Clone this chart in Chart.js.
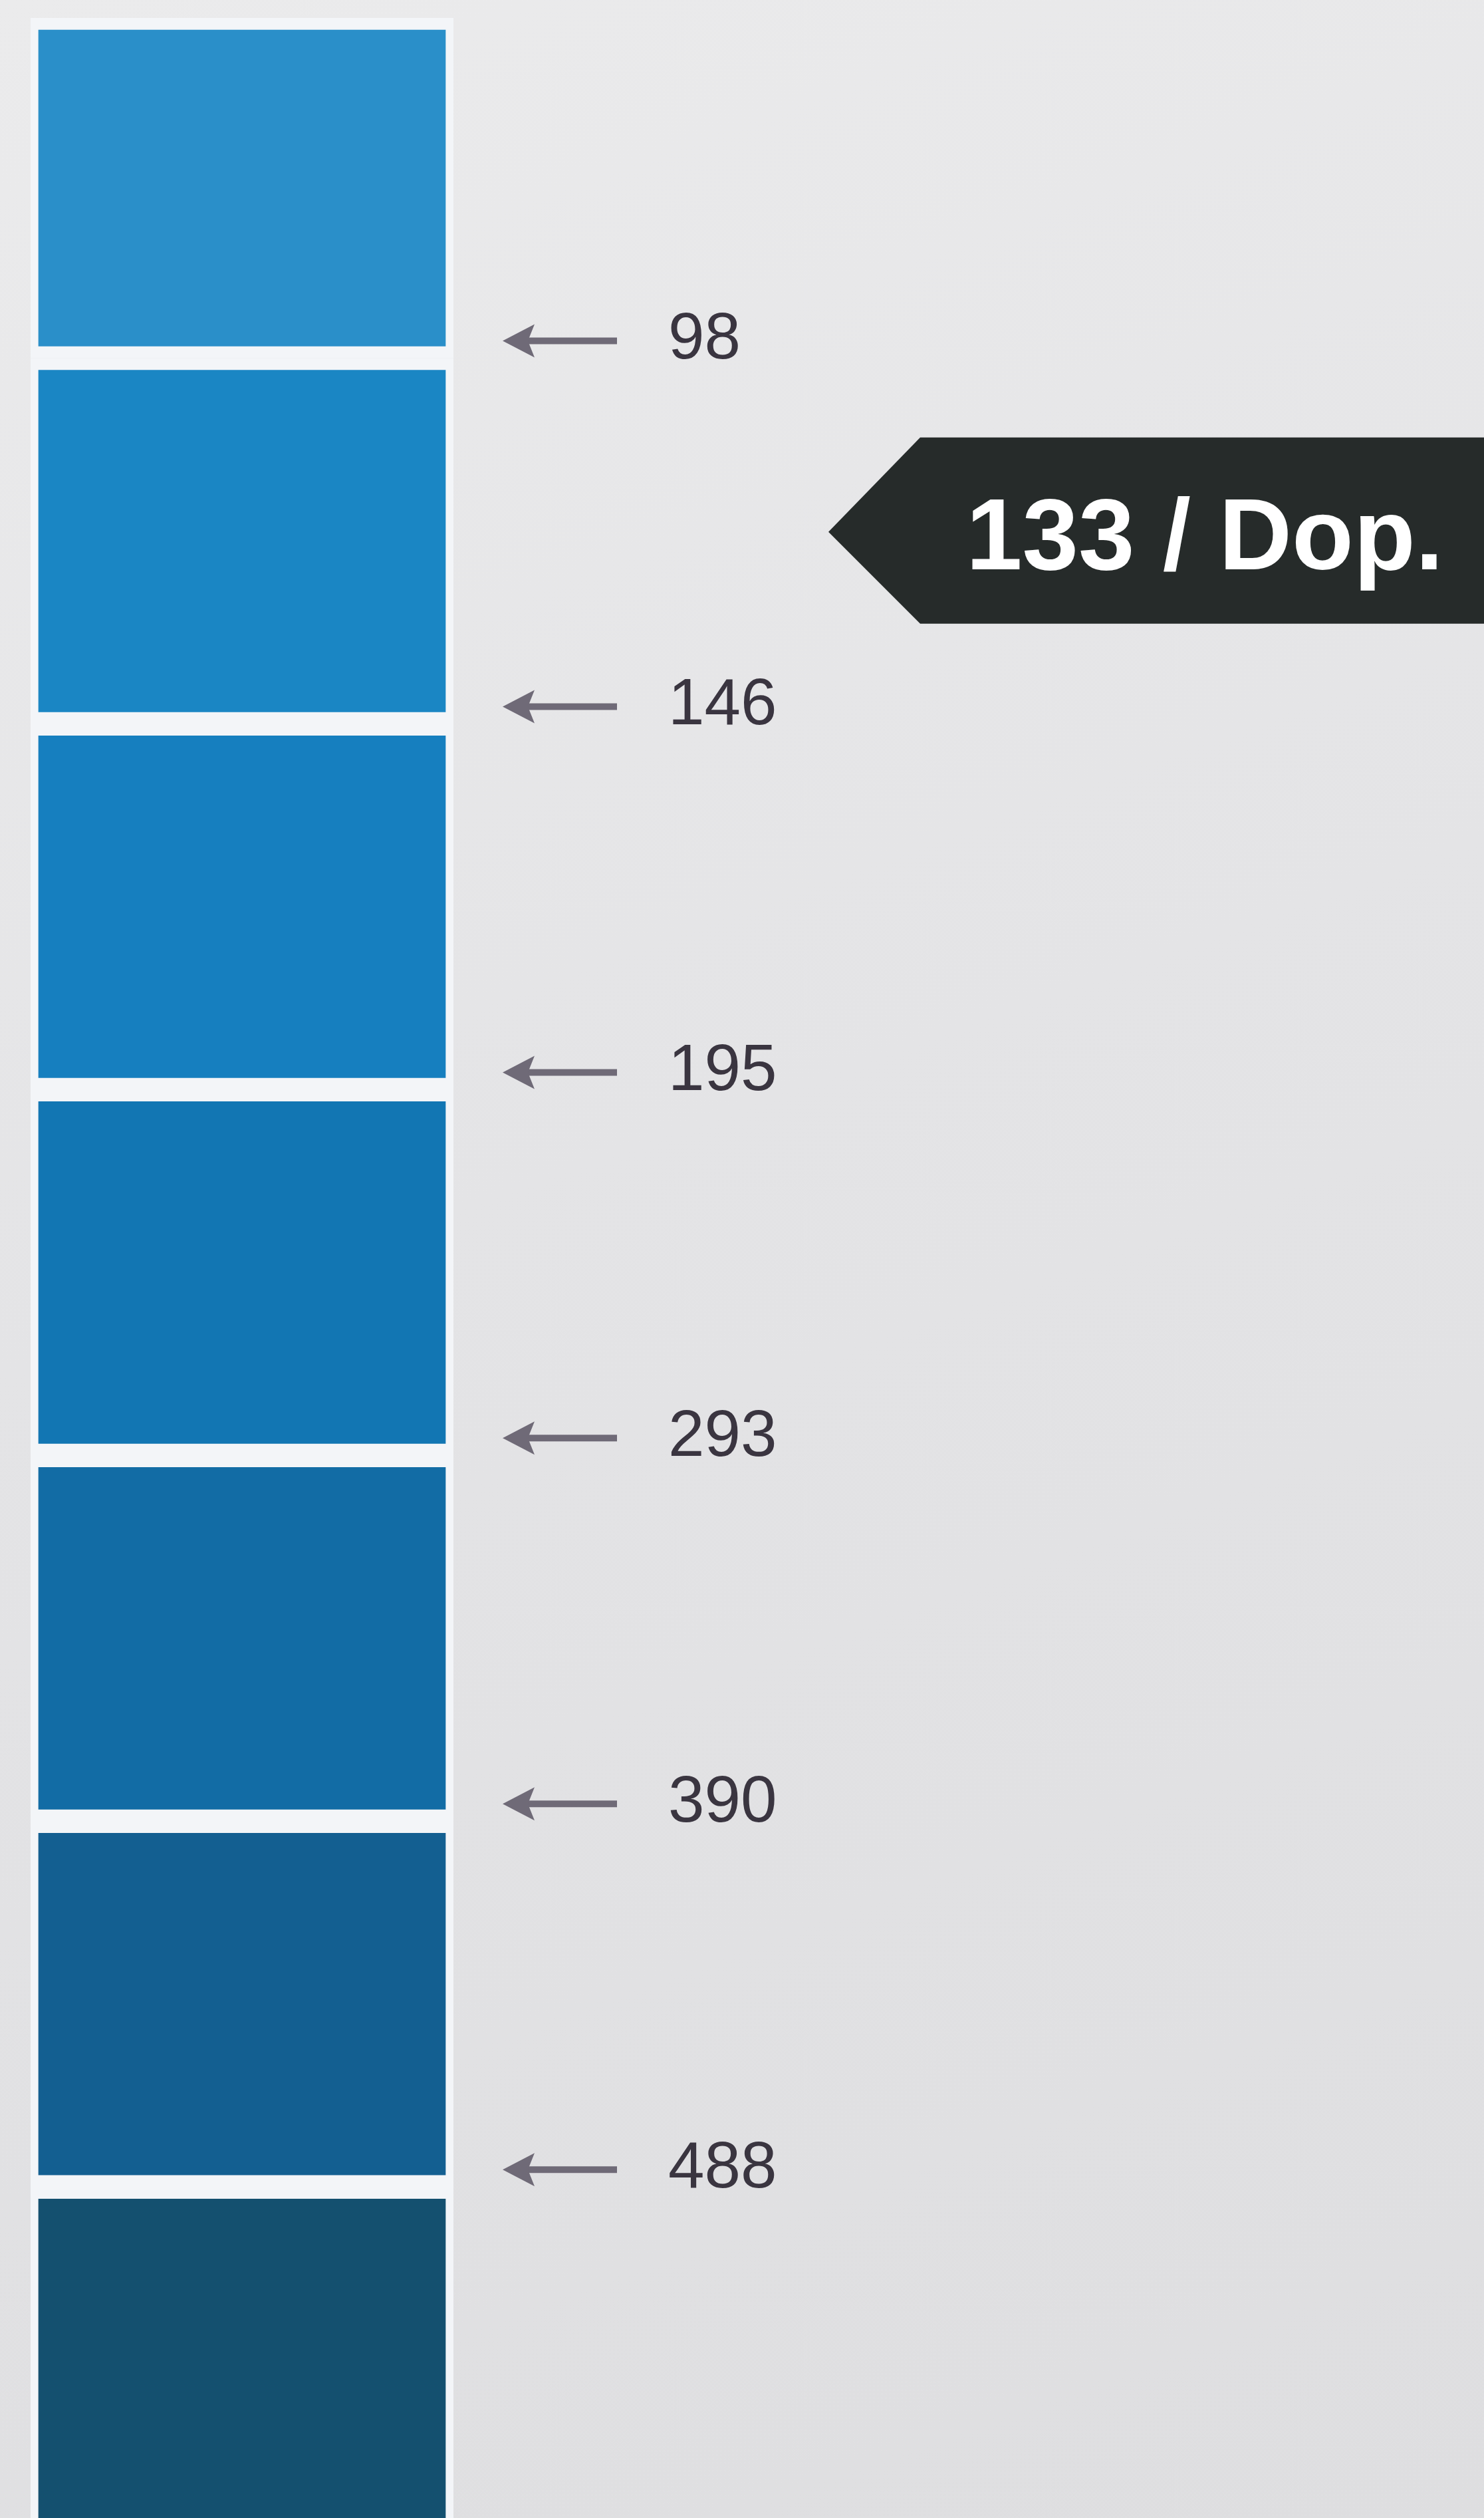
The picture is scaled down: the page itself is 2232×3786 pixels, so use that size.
<!DOCTYPE html>
<html lang="en">
<head>
    <meta charset="UTF-8">
    <title>Colour scale</title>
    <script src="https://cdn.jsdelivr.net/npm/chart.js"></script>
    <style>
        body {
            margin: 0;
            padding: 0;
            background: linear-gradient(160deg, #ebebec 0%, #e4e4e6 45%, #dedee0 100%);
        }
        .wrap {
            position: relative;
            width: 2232px;
            height: 3786px;
        }
    </style>
</head>
<body>
    <div class="wrap">
        <canvas id="scaleChart"></canvas>
    </div>

    <script>
        // colour blocks, top to bottom
        const swatchColors = ["#2a8fc9", "#1a86c4", "#167fbf", "#1276b3", "#126ca5", "#135f91", "#14506f"];
        // height of each block in block units (first one is a bit shorter)
        const swatchSpan = [0.93, 1, 1, 1, 1, 1, 1];
        // values printed at the borders between blocks
        const boundaryLabels = [98, 146, 195, 293, 390, 488];
        // the marker tag and where it points on the block scale
        const tagText = "133 / Dop.";
        const tagAt = 1.405;

        const gapColor = "#f3f5f8";

        // border positions = running sum of block heights
        const boundaryPos = [];
        let acc = 0;
        for (let i = 0; i < boundaryLabels.length; i++) {
            acc += swatchSpan[i];
            boundaryPos.push(acc);
        }

        const datasets = swatchColors.map((c, i) => ({
            label: "block " + (i + 1),
            data: [swatchSpan[i]],
            backgroundColor: c,
            borderColor: gapColor,
            borderWidth: { top: 18, bottom: 18, left: 12, right: 12 },
            borderSkipped: false,
            barPercentage: 1,
            categoryPercentage: 1
        }));

        const arrowsAndTag = {
            id: "arrowsAndTag",
            afterDraw(chart) {
                const ctx = chart.ctx;
                const y = chart.scales.y;
                const off = y.options.ticks.labelOffset;
                const x0 = chart.chartArea.right;

                // little arrows in front of each value
                ctx.save();
                ctx.strokeStyle = "#6f6a77";
                ctx.fillStyle = "#6f6a77";
                ctx.lineWidth = 10;
                boundaryPos.forEach(v => {
                    const py = y.getPixelForValue(v) + off;
                    ctx.beginPath();
                    ctx.moveTo(x0 + 100, py);
                    ctx.lineTo(x0 + 246, py);
                    ctx.stroke();
                    ctx.beginPath();
                    ctx.moveTo(x0 + 74, py);
                    ctx.lineTo(x0 + 122, py - 25);
                    ctx.lineTo(x0 + 112, py);
                    ctx.lineTo(x0 + 122, py + 25);
                    ctx.closePath();
                    ctx.fill();
                });
                ctx.restore();

                // dark tag pointing at the reading
                const cy = y.getPixelForValue(tagAt);
                ctx.save();
                ctx.fillStyle = "#262b2a";
                ctx.beginPath();
                ctx.moveTo(1246, cy);
                ctx.lineTo(1384, cy - 142);
                ctx.lineTo(chart.width + 10, cy - 142);
                ctx.lineTo(chart.width + 10, cy + 138);
                ctx.lineTo(1384, cy + 138);
                ctx.closePath();
                ctx.fill();
                ctx.fillStyle = "#ffffff";
                ctx.font = "bold 152px 'Liberation Sans', Arial, sans-serif";
                ctx.textBaseline = "alphabetic";
                ctx.textAlign = "left";
                ctx.fillText(tagText, 1453, cy + 56);
                ctx.restore();
            }
        };

        new Chart(document.getElementById("scaleChart"), {
            type: "bar",
            data: { labels: ["strip"], datasets: datasets },
            options: {
                responsive: true,
                maintainAspectRatio: false,
                animation: false,
                layout: { padding: { left: 46, top: 27, right: 950, bottom: 0 } },
                plugins: { legend: { display: false }, tooltip: { enabled: false } },
                scales: {
                    x: { stacked: true, display: false },
                    y: {
                        stacked: true,
                        reverse: true,
                        position: "right",
                        min: 0,
                        max: 6.835,
                        grid: { display: false, drawTicks: false },
                        border: { display: false },
                        afterFit(scale) {
                            scale.width = 600;
                            scale.paddingTop = 0;
                            scale.paddingBottom = 0;
                        },
                        afterBuildTicks(scale) {
                            scale.ticks = boundaryPos.map(v => ({ value: v }));
                        },
                        ticks: {
                            padding: 323,
                            labelOffset: -26,
                            color: "#3a3540",
                            font: { family: "'Liberation Sans', Arial, sans-serif", size: 98 },
                            callback: (val, i) => boundaryLabels[i]
                        }
                    }
                }
            },
            plugins: [arrowsAndTag]
        });
    </script>
</body>
</html>
